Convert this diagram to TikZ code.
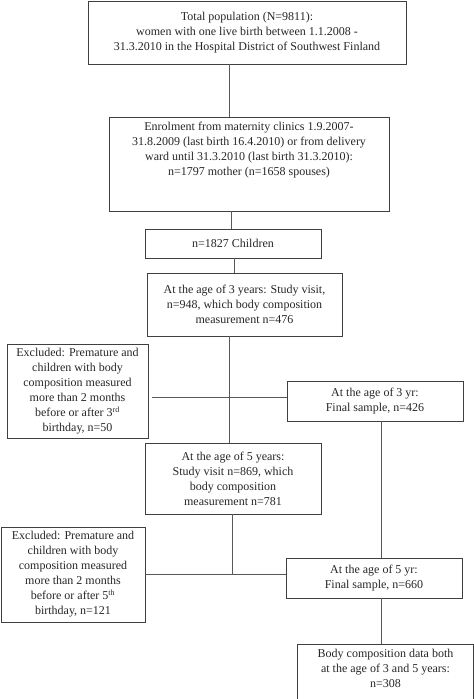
\documentclass[tikz,border=0pt]{standalone}
\usepackage{fontspec}
\setmainfont{Liberation Serif}
\begin{document}
\begin{tikzpicture}[x=1pt,y=-1pt,
  box/.style={draw=black!75, line width=0.9pt, text=black!85, align=center, inner sep=0pt,
    font=\fontsize{12}{15}\selectfont},
  conn/.style={draw=black!65, line width=0.8pt}]
\useasboundingbox (0,0) rectangle (474,699);
\node[box, minimum width=318, minimum height=63] (b1) at (247,32.5)
  {Total population (N=9811):\\women with one live birth between 1.1.2008 -\\31.3.2010 in the Hospital District of Southwest Finland};
\node[box, minimum width=280, minimum height=94, text depth=30pt] (b2) at (249,164)
  {Enrolment from maternity clinics 1.9.2007-\\31.8.2009 (last birth 16.4.2010) or from delivery\\ward until 31.3.2010 (last birth 31.3.2010):\\n=1797 mother (n=1658 spouses)};
\node[box, minimum width=176, minimum height=29] (b3) at (233,243.5) {n=1827 Children};
\node[box, minimum width=195, minimum height=63] (b4) at (244.5,304.5)
  {At the age of 3 years: Study visit,\\n=948, which body composition\\measurement n=476};
\node[box, minimum width=141, minimum height=94] (ex1) at (77.5,391)
  {Excluded: Premature and\\children with body\\composition measured\\more than 2 months\\before or after 3\textsuperscript{rd}\\birthday, n=50};
\node[box, minimum width=176, minimum height=40] (f3) at (375,401)
  {At the age of 3 yr:\\Final sample, n=426};
\node[box, minimum width=176, minimum height=71] (b5) at (233,478.5)
  {At the age of 5 years:\\Study visit n=869, which\\body composition\\measurement n=781};
\node[box, minimum width=144, minimum height=95] (ex2) at (73,574.5)
  {Excluded: Premature and\\children with body\\composition measured\\more than 2 months\\before or after 5\textsuperscript{th}\\birthday, n=121};
\node[box, minimum width=176, minimum height=40] (f5) at (374,578)
  {At the age of 5 yr:\\Final sample, n=660};
\node[box, minimum width=176, minimum height=62, text depth=14pt] (fin) at (385.5,675)
  {Body composition data both\\at the age of 3 and 5 years:\\n=308};
\coordinate (j3) at (229,397);
\coordinate (j5) at (232,574);
\draw[conn] (b1.south -| 229,0) -- (b2.north -| 229,0);
\draw[conn] (b2.south -| 231,0) -- (b3.north -| 231,0);
\draw[conn] (b3.south -| 234,0) -- (b4.north -| 234,0);
\draw[conn] (b4.south -| j3) -- (b5.north -| j3);
\draw[conn] ([xshift=4pt]ex1.east |- j3) -- (f3.west |- j3);
\draw[conn] (b5.south -| j5) -- (j5);
\draw[conn] (ex2.east |- j5) -- (f5.west |- j5);
\draw[conn] (f3.south -| 381,0) -- (f5.north -| 381,0);
\draw[conn] (f5.south -| 381,0) -- (fin.north -| 381,0);
\end{tikzpicture}
\end{document}
